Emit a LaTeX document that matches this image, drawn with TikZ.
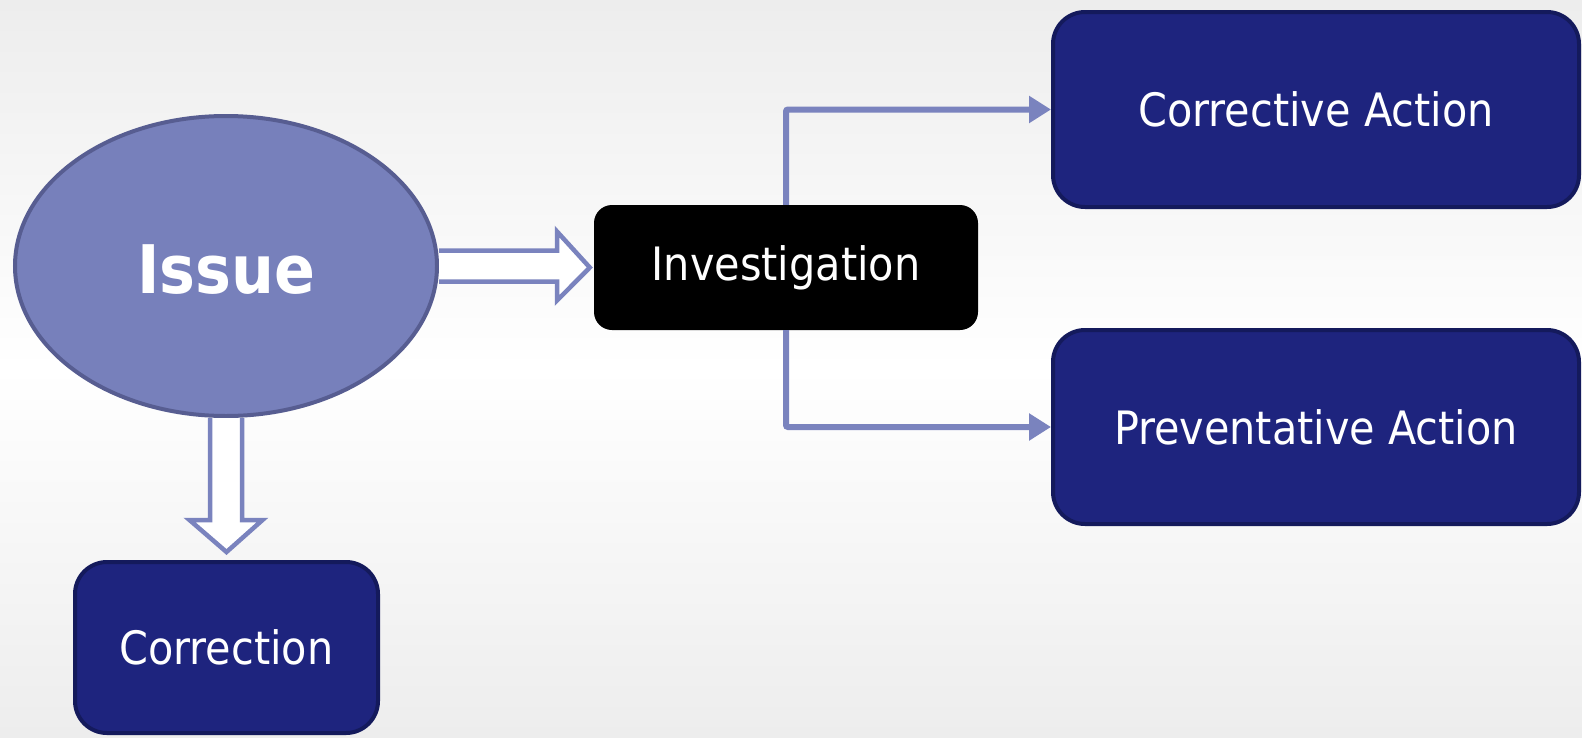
\documentclass[tikz,border=0pt]{standalone}
\usepackage{fontspec}
\setmainfont{DejaVu Sans Condensed}
\usetikzlibrary{arrows.meta,shapes.geometric}

\definecolor{bgedge}{HTML}{EDEDED}
\definecolor{navyfill}{HTML}{1E247E}
\definecolor{navyline}{HTML}{141A5C}
\definecolor{issuefill}{HTML}{7780BB}
\definecolor{issueline}{HTML}{575D91}
\definecolor{linkcol}{HTML}{7A83BE}

\begin{document}
\begin{tikzpicture}[x=1pt,y=-1pt,
  labelfont/.style={font=\fontsize{46}{52}\selectfont},
  actionbox/.style={rectangle, rounded corners=32pt, fill=navyfill, draw=navyline,
    line width=4pt, text=white, labelfont, inner sep=0pt},
  issuenode/.style={ellipse, fill=issuefill, draw=issueline, line width=4pt,
    text=white, font=\fontsize{67}{70}\selectfont\bfseries,
    minimum width=422pt, minimum height=300pt, inner sep=0pt},
  invbox/.style={rectangle, rounded corners=18pt, fill=black, text=white,
    labelfont, minimum width=384pt, minimum height=125pt, inner sep=0pt},
  hollow/.style={draw=linkcol, fill=white, line width=4.5pt, line join=miter},
  conn/.style={draw=linkcol, line width=6pt, rounded corners=2pt,
    -{Triangle[length=22pt,width=26pt]}}
]
% background
\useasboundingbox (0,0) rectangle (1582,737);
\shade[top color=bgedge, bottom color=bgedge, middle color=white]
  (0,0) rectangle (1582,737);

% nodes
\node[issuenode] (issue) at (226,266) {\raisebox{-4pt}[\height][\depth]{Issue}};
\node[invbox] (inv) at (786,267.5) {Investigation};
\node[actionbox, minimum width=526pt, minimum height=195pt] (corrective)
  at (1316,109.5) {Corrective Action};
\node[actionbox, minimum width=526pt, minimum height=194pt] (preventative)
  at (1316,427) {Preventative Action};
\node[actionbox, minimum width=303pt, minimum height=171pt] (correction)
  at (226.5,647.5) {Correction};

% hollow arrow: Issue -> Investigation
\coordinate (rhead) at (557,0);
\draw[hollow]
  ([yshift=15.5pt]issue.east) -- ([yshift=15.5pt]issue.east -| rhead)
  -- ([yshift=34.5pt]issue.east -| rhead) -- ([xshift=-4pt]inv.west)
  -- ([yshift=-34.5pt]issue.east -| rhead) -- ([yshift=-15.5pt]issue.east -| rhead)
  -- ([yshift=-15.5pt]issue.east);

% hollow arrow: Issue -> Correction
\coordinate (dhead) at (0,520);
\draw[hollow]
  ([xshift=-16pt]issue.south) -- ([xshift=-16pt]issue.south |- dhead)
  -- ([xshift=-36.5pt]issue.south |- dhead) -- ([yshift=8pt]correction.north)
  -- ([xshift=36.5pt]issue.south |- dhead) -- ([xshift=16pt]issue.south |- dhead)
  -- ([xshift=16pt]issue.south);

% branches from Investigation
\draw[conn] (inv.north) |- (corrective.west);
\draw[conn] (inv.south) |- (preventative.west);
\end{tikzpicture}
\end{document}
